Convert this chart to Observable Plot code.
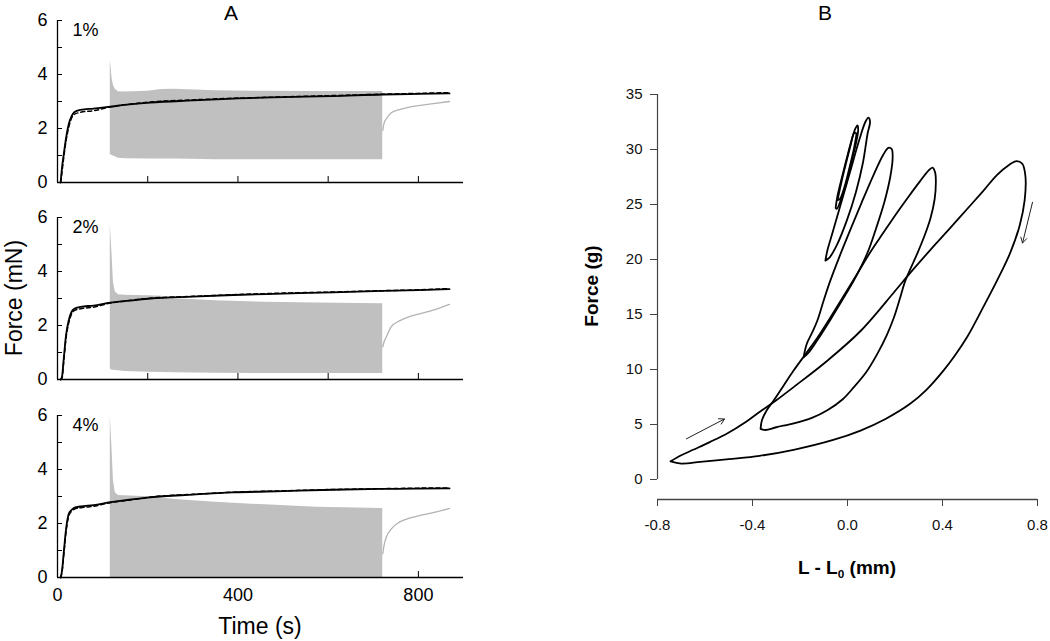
<!DOCTYPE html>
<html>
<head>
<meta charset="utf-8">
<script src="https://cdn.jsdelivr.net/npm/d3@7"></script>
<script src="https://cdn.jsdelivr.net/npm/@observablehq/plot@0.6"></script>
<style>
html, body { margin: 0; padding: 0; background: #fff; }
#fig { position: relative; width: 1050px; height: 641px; overflow: hidden; background: #fff;
       font-family: "Liberation Sans", Arial, sans-serif; color: #000; }
#fig svg { position: absolute; }
.lbl { position: absolute; white-space: nowrap; line-height: 1; }
.sub { font-size: 0.62em; position: relative; top: 0.35em; }
</style>
</head>
<body>
<div id="fig"></div>
<script>
// ---------------- Panel A data ----------------
const strainLabels = ["1%", "2%", "4%"];
const yTicksA = [0, 1, 2, 3, 4, 5, 6];
const yLabelsA = [0, 2, 4, 6];
const xTicksA = [0, 200, 400, 600, 800];
const xLabelsA = [0, 400, 800];

// continuous force record (solid) and its fit (dashed)
const tBlack = [7, 10, 14, 19, 25, 31, 37, 51, 80, 117, 160, 206, 300, 390, 500, 611, 721, 800, 869];
const black1 = [0, 0.55, 1.06, 1.65, 2.17, 2.45, 2.6, 2.69, 2.74, 2.81, 2.89, 2.96, 3.04, 3.11, 3.16, 3.2, 3.26, 3.28, 3.3];
const dash1  = [0, 0.4, 0.95, 1.55, 2.05, 2.38, 2.52, 2.6, 2.66, 2.8, 2.9, 2.98, 3.06, 3.12, 3.17, 3.22, 3.27, 3.3, 3.33];
const black2 = [0, 0.1, 0.8, 1.65, 2.2, 2.5, 2.62, 2.69, 2.74, 2.85, 2.92, 3.0, 3.07, 3.13, 3.18, 3.23, 3.28, 3.31, 3.35];
const dash2  = [0, 0.05, 0.7, 1.55, 2.1, 2.42, 2.55, 2.62, 2.68, 2.83, 2.93, 3.01, 3.08, 3.14, 3.2, 3.24, 3.29, 3.32, 3.37];
const black3 = [0, 0.25, 0.95, 1.8, 2.36, 2.5, 2.58, 2.63, 2.68, 2.79, 2.88, 2.97, 3.07, 3.15, 3.2, 3.25, 3.28, 3.29, 3.3];
const dash3  = [0, 0.2, 0.85, 1.7, 2.28, 2.45, 2.53, 2.58, 2.64, 2.77, 2.87, 2.98, 3.08, 3.16, 3.21, 3.26, 3.29, 3.31, 3.32];

// oscillation envelope (grey band)
const tBand  = [117, 118.5, 121, 124, 128, 135, 150, 200, 230, 260, 350, 460, 575, 721];
const upper1 = [4.54, 4.3, 3.85, 3.6, 3.45, 3.36, 3.35, 3.38, 3.44, 3.45, 3.4, 3.38, 3.37, 3.37];
const lower1 = [1.05, 1.02, 1.0, 0.98, 0.95, 0.9, 0.88, 0.87, 0.87, 0.87, 0.84, 0.84, 0.84, 0.84];
const upper2 = [5.79, 5.3, 4.6, 3.6, 3.25, 3.14, 3.12, 3.1, 3.08, 2.99, 2.92, 2.86, 2.83, 2.81];
const lower2 = [0.4, 0.36, 0.35, 0.34, 0.33, 0.32, 0.3, 0.27, 0.26, 0.25, 0.23, 0.22, 0.22, 0.22];
const upper3 = [6.0, 5.5, 4.7, 3.6, 3.15, 3.04, 3.03, 2.99, 2.94, 2.89, 2.79, 2.69, 2.6, 2.56];
const lower3 = [0, 0, 0, 0, 0, 0, 0, 0, 0, 0, 0, 0, 0, 0];

// recovery after oscillation (grey line)
const tRecovery = [721, 724, 729, 740, 758, 780, 800, 833, 869];
const recovery1 = [1.93, 2.2, 2.36, 2.58, 2.7, 2.79, 2.85, 2.92, 3.0];
const recovery2 = [1.21, 1.4, 1.58, 1.96, 2.17, 2.33, 2.42, 2.57, 2.78];
const recovery3 = [0.88, 1.2, 1.5, 1.8, 2.05, 2.2, 2.28, 2.4, 2.56];

// ---------------- Panel B data ----------------
const xTicksB = [-0.8, -0.4, 0.0, 0.4, 0.8];
const yTicksB = [0, 5, 10, 15, 20, 25, 30, 35];
const loop1 = [[-0.745,1.65],[-0.70,2.2],[-0.65,2.7],[-0.58,3.4],[-0.505,4.2],[-0.43,5.2],[-0.366,6.2],[-0.30,7.2],[-0.227,8.4],[-0.085,10.8],[0.055,13.5],[0.195,17.0],[0.265,18.8],[0.35,20.9],[0.43,22.8],[0.5,24.5],[0.57,26.2],[0.63,27.7],[0.68,28.6],[0.712,28.95],[0.736,28.7],[0.749,27.6],[0.746,25.4],[0.725,23.1],[0.685,20.6],[0.63,18.1],[0.565,15.4],[0.505,13.0],[0.45,11.2],[0.404,9.9],[0.33,8.1],[0.265,6.9],[0.16,5.5],[0.055,4.45],[-0.06,3.6],[-0.227,2.7],[-0.37,2.15],[-0.5,1.85],[-0.62,1.6],[-0.7,1.45],[-0.745,1.65]];
const loop2 = [[-0.366,4.6],[-0.36,5.4],[-0.34,6.3],[-0.31,7.2],[-0.27,8.5],[-0.227,9.9],[-0.18,11.3],[-0.126,12.9],[-0.07,14.8],[0.027,18.2],[0.1,20.8],[0.15,22.4],[0.21,24.3],[0.26,25.8],[0.305,27.1],[0.34,28.05],[0.358,28.35],[0.369,27.9],[0.372,27.0],[0.367,25.5],[0.35,23.8],[0.325,22.2],[0.295,20.6],[0.244,18.1],[0.22,16.4],[0.195,14.7],[0.165,13.1],[0.125,11.4],[0.08,9.8],[0.027,8.4],[-0.02,7.3],[-0.085,6.3],[-0.15,5.6],[-0.226,5.1],[-0.3,4.75],[-0.345,4.5],[-0.366,4.6]];
const loop3 = [[-0.185,11.1],[-0.172,12.3],[-0.15,13.3],[-0.126,14.5],[-0.1,16.3],[-0.072,18.1],[-0.035,20.2],[0.01,22.6],[0.06,25.2],[0.11,27.7],[0.15,29.5],[0.172,30.15],[0.186,30.05],[0.19,29.2],[0.18,27.5],[0.155,25.2],[0.12,22.8],[0.084,20.6],[0.027,18.1],[-0.025,16.2],[-0.07,14.6],[-0.126,12.7],[-0.165,11.5],[-0.185,11.1]];
const loop4 = [[-0.093,19.9],[-0.085,20.8],[-0.065,22.3],[-0.03,24.9],[0.01,27.9],[0.05,30.9],[0.075,32.5],[0.088,32.9],[0.095,32.5],[0.085,31.5],[0.065,28.8],[0.035,26.1],[-0.002,23.6],[-0.045,21.3],[-0.075,20.2],[-0.093,19.9]];
const loop5 = [[-0.05,24.7],[-0.042,25.8],[-0.022,27.6],[-0.002,29.3],[0.018,30.9],[0.033,31.9],[0.042,32.2],[0.045,31.8],[0.036,30.6],[0.016,28.8],[-0.004,27.0],[-0.025,25.6],[-0.045,24.6],[-0.05,24.7]];
const loop6 = [[-0.042,25.4],[-0.028,26.8],[-0.008,28.6],[0.012,30.3],[0.028,31.5],[0.036,31.5],[0.03,30.4],[0.01,28.5],[-0.01,26.8],[-0.032,25.5],[-0.042,25.4]];
const arrowFrom = [[-0.678, 3.7], [0.779, 25.2]];
const arrowTo   = [[-0.518, 5.5], [0.737, 21.5]];

// ---------------- Text ----------------
const titleA = "A", titleB = "B";
const yTitleA = "Force (mN)", xTitleA = "Time (s)";
const yTitleB = "Force (g)";
const xTitleB = 'L - L<span class="sub">0</span> (mm)';

// ---------------- Build ----------------
const fig = document.getElementById("fig");
const rows = (xs, ys, k) => xs.map((x, i) => ({x, y: ys[i], k}));

const blackSets = [black1, black2, black3];
const dashSets = [dash1, dash2, dash3];
const upperSets = [upper1, upper2, upper3];
const lowerSets = [lower1, lower2, lower3];
const recSets = [recovery1, recovery2, recovery3];
const tops = [0, 197, 395];

strainLabels.forEach((label, i) => {
  const last = i === strainLabels.length - 1;
  const H = last ? 222 : 194;
  const band = tBand.map((t, j) => ({t, hi: upperSets[i][j], lo: lowerSets[i][j]}));
  const svg = Plot.plot({
    width: 480, height: H,
    marginLeft: 57, marginRight: 17, marginTop: 20, marginBottom: H - 182,
    x: {domain: [0, 900]},
    y: {domain: [0, 6]},
    style: {fontFamily: "Liberation Sans, Arial, sans-serif", fontSize: "18px", color: "#000", background: "transparent"},
    marks: [
      Plot.axisY(yTicksA, {tickSize: -5, tickFormat: () => "", label: null}),
      Plot.axisY(yLabelsA, {tickSize: 0, tickPadding: 10, label: null}),
      Plot.axisX(xTicksA, {tickSize: -6, tickFormat: () => "", label: null}),
      last ? Plot.axisX(xLabelsA, {tickSize: 0, tickPadding: 11, label: null}) : null,
      Plot.areaY(band, {x: "t", y1: "lo", y2: "hi", fill: "#c0c0c0", curve: "linear"}),
      Plot.line(rows(tRecovery, recSets[i]), {x: "x", y: "y", stroke: "#b3b3b3", strokeWidth: 1.3, curve: "monotone-x"}),
      Plot.line(rows(tBlack, dashSets[i]), {x: "x", y: "y", stroke: "#000", strokeWidth: 1.5, strokeDasharray: "4,3", curve: "monotone-x"}),
      Plot.line(rows(tBlack, blackSets[i]), {x: "x", y: "y", stroke: "#000", strokeWidth: 1.8, curve: "monotone-x"}),
      Plot.ruleX([0], {strokeWidth: 1.3}),
      Plot.ruleY([0], {strokeWidth: 1.3}),
      Plot.text([label], {frameAnchor: "top-left", dx: 15, dy: 3, fontSize: 18, text: d => d})
    ].filter(Boolean)
  });
  svg.style.left = "0px";
  svg.style.top = tops[i] + "px";
  fig.appendChild(svg);
});

// Panel B
const loops = [loop1, loop2, loop3, loop4, loop5, loop6];
const loopRows = loops.flatMap((L, k) => L.map(([x, y]) => ({x, y, k})));
const arrowRows = arrowFrom.map((a, i) => ({x1: a[0], y1: a[1], x2: arrowTo[i][0], y2: arrowTo[i][1]}));
const svgB = Plot.plot({
  width: 470, height: 641,
  marginLeft: 77, marginRight: 13, marginTop: 90, marginBottom: 142,
  x: {domain: [xTicksB[0], xTicksB[xTicksB.length - 1]]},
  y: {domain: [yTicksB[0], yTicksB[yTicksB.length - 1]], range: [479, 94]},
  style: {fontFamily: "Liberation Sans, Arial, sans-serif", fontSize: "15px", color: "#111", background: "transparent"},
  marks: [
    Plot.axisY(yTicksB, {tickSize: 7, tickPadding: 8, label: null, stroke: "#444"}),
    Plot.axisX(xTicksB, {tickSize: 7, tickPadding: 13, tickFormat: d => d.toFixed(1), label: null, stroke: "#444"}),
    Plot.ruleX([xTicksB[0]], {y1: yTicksB[0], y2: yTicksB[yTicksB.length - 1], stroke: "#444", strokeWidth: 1.2}),
    Plot.ruleY([yTicksB[0]], {dy: 20, stroke: "#444", strokeWidth: 1.6}),
    Plot.line(loopRows, {x: "x", y: "y", z: "k", stroke: "#000", strokeWidth: 1.8, curve: "catmull-rom"}),
    Plot.arrow(arrowRows, {x1: "x1", y1: "y1", x2: "x2", y2: "y2", stroke: "#222", strokeWidth: 1, headLength: 9})
  ]
});
svgB.style.left = "580px";
svgB.style.top = "0px";
fig.appendChild(svgB);

// HTML labels
function addLabel(html, {left, top, size, bold = false, rotate = false}) {
  const d = document.createElement("div");
  d.className = "lbl";
  d.style.left = left + "px";
  d.style.top = top + "px";
  d.style.fontSize = size + "px";
  if (bold) d.style.fontWeight = "bold";
  d.style.transform = rotate ? "translate(-50%, -50%) rotate(-90deg)" : "translateX(-50%)";
  d.innerHTML = html;
  fig.appendChild(d);
}
addLabel(titleA, {left: 231, top: 2, size: 21});
addLabel(titleB, {left: 825, top: 2, size: 21});
addLabel(yTitleA, {left: 14, top: 298, size: 23, rotate: true});
addLabel(xTitleA, {left: 260, top: 615, size: 23});
addLabel(yTitleB, {left: 591, top: 286, size: 19, bold: true, rotate: true});
addLabel(xTitleB, {left: 847, top: 558, size: 19, bold: true});
</script>
</body>
</html>
